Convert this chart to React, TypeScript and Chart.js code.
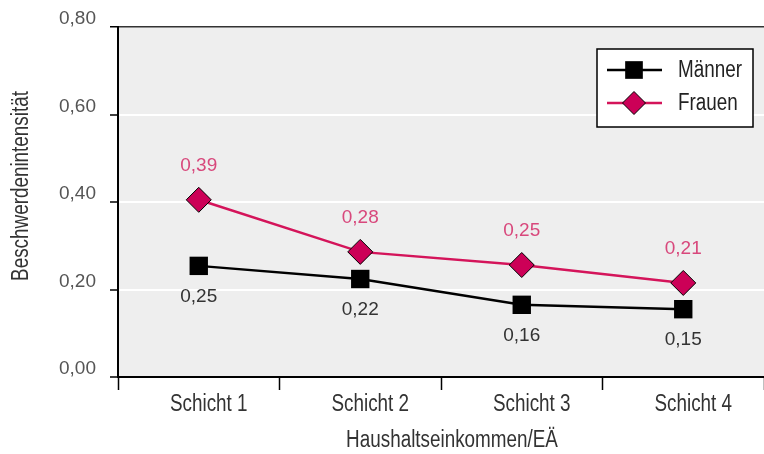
import React, { useEffect, useRef } from "react";
import { Chart, registerables } from "chart.js";

Chart.register(...registerables);

const categories = ["Schicht 1", "Schicht 2", "Schicht 3", "Schicht 4"];
const maennerValues = [0.254, 0.224, 0.165, 0.155];
const frauenValues = [0.405, 0.286, 0.256, 0.215];
const maennerLabels = ["0,25", "0,22", "0,16", "0,15"];
const frauenLabels = ["0,39", "0,28", "0,25", "0,21"];
const seriesNames = ["Männer", "Frauen"];
const yTicks = [0, 0.2, 0.4, 0.6, 0.8];
const xTitle = "Haushaltseinkommen/EÄ";
const yTitle = "Beschwerdenintensität";

const SANS = '"Liberation Sans", Arial, sans-serif';
const NARROW_SIZE = 23;
const NARROW_SCALE = 0.82;
const PINK = "#d4145a";
const PINK_FILL = "#cc0057";
const PINK_TEXT = "#d8487c";

function narrowText(
  ctx: CanvasRenderingContext2D,
  text: string,
  x: number,
  y: number,
  align: CanvasTextAlign,
  color: string,
  rotate = 0
) {
  ctx.save();
  ctx.translate(x, y);
  if (rotate) ctx.rotate(rotate);
  ctx.scale(NARROW_SCALE, 1);
  ctx.font = NARROW_SIZE + "px " + SANS;
  ctx.textAlign = align;
  ctx.textBaseline = "middle";
  ctx.fillStyle = color;
  ctx.fillText(text, 0, 0);
  ctx.restore();
}

function drawMarker(ctx: CanvasRenderingContext2D, kind: string, x: number, y: number, r: number) {
  ctx.save();
  ctx.beginPath();
  if (kind === "rect") {
    const s = Math.SQRT1_2 * r;
    ctx.rect(x - s, y - s, 2 * s, 2 * s);
    ctx.fillStyle = "#000";
    ctx.fill();
  } else {
    ctx.moveTo(x, y - r);
    ctx.lineTo(x + r, y);
    ctx.lineTo(x, y + r);
    ctx.lineTo(x - r, y);
    ctx.closePath();
    ctx.fillStyle = PINK_FILL;
    ctx.fill();
    ctx.lineWidth = 1;
    ctx.strokeStyle = "#000";
    ctx.stroke();
  }
  ctx.restore();
}

const decorPlugin = {
  id: "decor",
  beforeDraw(chart: any) {
    const { ctx, chartArea } = chart;
    ctx.save();
    ctx.fillStyle = "#eeeeee";
    ctx.fillRect(chartArea.left, chartArea.top, chartArea.right - chartArea.left, chartArea.bottom - chartArea.top);
    ctx.restore();
  },
  afterDatasetsDraw(chart: any) {
    const { ctx, chartArea } = chart;
    const labelSets = [maennerLabels, frauenLabels];
    const offsets = [31, -34];
    const colors = ["#333333", PINK_TEXT];
    ctx.save();
    ctx.font = "19px " + SANS;
    ctx.textAlign = "center";
    ctx.textBaseline = "middle";
    chart.data.datasets.forEach((ds: any, di: number) => {
      const meta = chart.getDatasetMeta(di);
      meta.data.forEach((pt: any, i: number) => {
        ctx.fillStyle = colors[di];
        ctx.fillText(labelSets[di][i], pt.x, pt.y + offsets[di]);
      });
    });
    ctx.restore();

    // category labels
    const xs = chart.scales.x;
    categories.forEach((c, i) => {
      narrowText(ctx, c, xs.getPixelForValue(i) + 10, 405, "center", "#333");
    });

    // legend
    const lx = 597, ly = 49, lw = 156, lh = 78;
    ctx.save();
    ctx.fillStyle = "#ffffff";
    ctx.fillRect(lx, ly, lw, lh);
    ctx.strokeStyle = "#000";
    ctx.lineWidth = 1.5;
    ctx.strokeRect(lx, ly, lw, lh);
    const rows = [
      { y: 70, color: "#000", kind: "rect", r: 12.5 },
      { y: 103, color: PINK, kind: "rectRot", r: 11.5 },
    ];
    rows.forEach((row, i) => {
      ctx.beginPath();
      ctx.strokeStyle = row.color;
      ctx.lineWidth = 2.5;
      ctx.moveTo(607, row.y);
      ctx.lineTo(662, row.y);
      ctx.stroke();
      drawMarker(ctx, row.kind, 634, row.y, row.r);
      narrowText(ctx, seriesNames[i], 678, row.y + 1, "left", "#222");
    });
    ctx.restore();

    // titles
    narrowText(ctx, xTitle, (chartArea.left + chartArea.right) / 2 + 11, 441, "center", "#333");
    narrowText(ctx, yTitle, 22, 186, "center", "#333", -Math.PI / 2);
  },
};

export default function App() {
  const ref = useRef<HTMLCanvasElement | null>(null);
  useEffect(() => {
    document.body.style.margin = "0";
    if (!ref.current) return;
    const chart = new Chart(ref.current, {
      type: "line",
      data: {
        labels: categories,
        datasets: [
          {
            label: seriesNames[0],
            data: maennerValues,
            borderColor: "#000",
            borderWidth: 2.5,
            pointStyle: "rect",
            pointRadius: 13,
            pointBackgroundColor: "#000",
            pointBorderColor: "#000",
            pointBorderWidth: 0,
            tension: 0,
          },
          {
            label: seriesNames[1],
            data: frauenValues,
            borderColor: PINK,
            borderWidth: 2.5,
            pointStyle: "rectRot",
            pointRadius: 12.5,
            pointBackgroundColor: PINK_FILL,
            pointBorderColor: "#000",
            pointBorderWidth: 1,
            tension: 0,
          },
        ],
      },
      options: {
        responsive: false,
        animation: false,
        devicePixelRatio: 1,
        layout: { autoPadding: false, padding: { left: 0, top: 27, right: 0, bottom: 0 } },
        plugins: { legend: { display: false }, tooltip: { enabled: false } },
        scales: {
          x: {
            type: "category",
            offset: true,
            afterFit: (s: any) => {
              s.height = 77;
              s.paddingLeft = 0;
              s.paddingRight = 0;
            },
            border: { display: true, color: "#000", width: 2 },
            grid: {
              offset: true,
              drawOnChartArea: false,
              drawTicks: true,
              tickLength: 13,
              tickWidth: 1.5,
              tickColor: (c: any) => (c.index >= 4 ? "rgba(0,0,0,0)" : "#000"),
            },
            ticks: { display: false },
          },
          y: {
            min: 0,
            max: 0.8,
            afterFit: (s: any) => {
              s.width = 118;
            },
            afterBuildTicks: (s: any) => {
              s.ticks = yTicks.map((v) => ({ value: v }));
            },
            border: { display: true, color: "#000", width: 2 },
            grid: {
              color: (c: any) => (c.tick && Math.abs(c.tick.value - 0.8) < 1e-6 ? "#333" : "#ffffff"),
              lineWidth: (c: any) => (c.tick && Math.abs(c.tick.value - 0.8) < 1e-6 ? 1.5 : 2),
              tickLength: 8,
              tickColor: "#000",
              tickWidth: 1.5,
            },
            ticks: {
              color: "#555",
              font: { family: SANS, size: 19 },
              padding: 14,
              labelOffset: -8,
              callback: (v: any) => Number(v).toFixed(2).replace(".", ","),
            },
          },
        },
      },
      plugins: [decorPlugin],
    });
    return () => chart.destroy();
  }, []);
  return (
    <div style={{ width: 764, height: 454, background: "#fff" }}>
      <canvas ref={ref} width={764} height={454} style={{ width: 764, height: 454 }} />
    </div>
  );
}
